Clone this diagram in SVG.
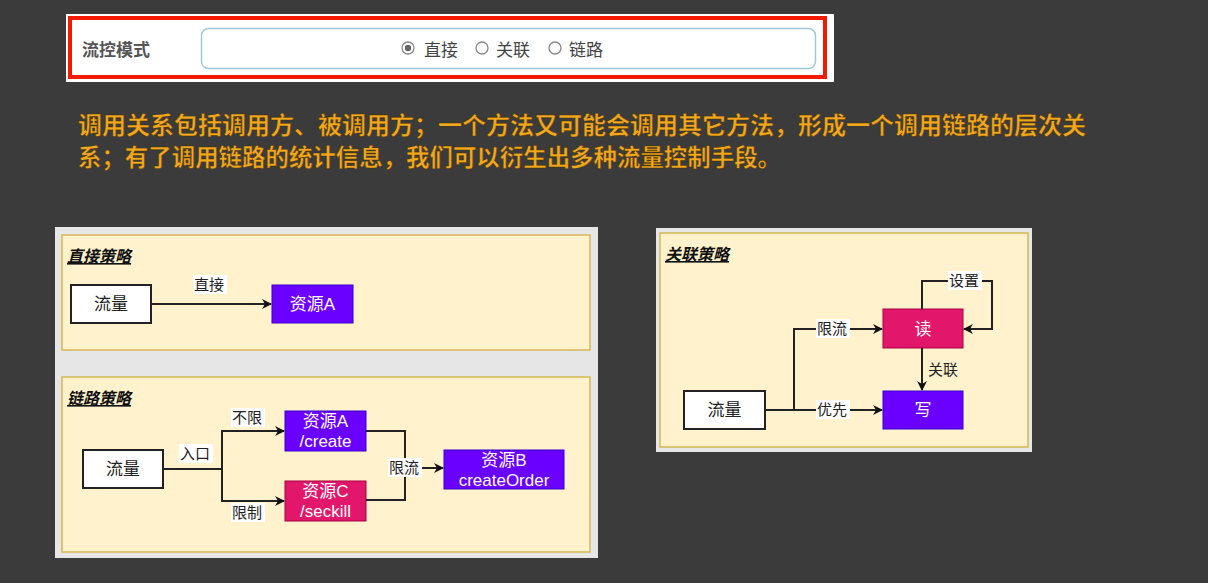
<svg xmlns="http://www.w3.org/2000/svg" width="1208" height="583" viewBox="0 0 1208 583">
<defs>
<marker id="arr" viewBox="0 0 10 10" refX="9" refY="5" markerWidth="11" markerHeight="10" orient="auto" markerUnits="userSpaceOnUse">
<path d="M0,0 L10,5 L0,10 L3,5 Z" fill="#111"/>
</marker>
<style>
text{font-family:"Liberation Sans","Noto Sans CJK SC",sans-serif}
.ttl{font-size:16px;font-weight:bold;font-style:italic;text-decoration:underline;fill:#111}
.lbl{font-size:15px;fill:#222}
.nt{font-size:17px;fill:#fff;text-anchor:middle}
.nd{font-size:17px;fill:#222;text-anchor:middle}
.lb{fill:#fff}
.edge{fill:none;stroke:#222;stroke-width:2}
.yel{fill:#fff2cc;stroke:#d6b656;stroke-width:1.5}
.pur{fill:#6a00ff;stroke:#3700cc;stroke-width:1}
.pnk{fill:#e2166b;stroke:#a50040;stroke-width:1}
.wht{fill:#fff;stroke:#222;stroke-width:2}
.or{font-size:23.5px;font-weight:bold;fill:#f2a81e}
</style>
</defs>
<rect width="1208" height="583" fill="#3b3b3b"/>
<!-- top mode selector -->
<g id="mode">
<rect x="66" y="14" width="768" height="68" fill="#fff"/>
<rect x="70" y="18" width="755" height="59" fill="none" stroke="#f21b00" stroke-width="4"/>
<text x="82" y="56" font-size="17" font-weight="bold" fill="#555">流控模式</text>
<rect x="201.5" y="28.5" width="614" height="40" rx="7" fill="#fff" stroke="#9fc8dc" stroke-width="1.5"/>
<circle cx="408" cy="48" r="6" fill="#fff" stroke="#888" stroke-width="1.3"/>
<circle cx="408" cy="48" r="3.2" fill="#666"/>
<text x="424" y="56" font-size="17" fill="#444">直接</text>
<circle cx="482" cy="48" r="6" fill="#fff" stroke="#888" stroke-width="1.3"/>
<text x="496" y="56" font-size="17" fill="#444">关联</text>
<circle cx="555" cy="48" r="6" fill="#fff" stroke="#888" stroke-width="1.3"/>
<text x="569" y="56" font-size="17" fill="#444">链路</text>
</g>
<!-- description -->
<g id="desc">
<text class="or" x="78" y="134" stroke="#4a3000" stroke-width="0.4" textLength="1008" lengthAdjust="spacingAndGlyphs">调用关系包括调用方、被调用方；一个方法又可能会调用其它方法，形成一个调用链路的层次关</text>
<text class="or" x="78" y="166" stroke="#4a3000" stroke-width="0.4" textLength="703" lengthAdjust="spacingAndGlyphs">系；有了调用链路的统计信息，我们可以衍生出多种流量控制手段。</text>
</g>
<!-- left panel -->
<rect x="55" y="227" width="543" height="331" fill="#e6e6e6"/>
<g id="direct">
<rect class="yel" x="62" y="235" width="528" height="115"/>
<text class="ttl" x="67" y="262">直接策略</text>
</g>
<g id="direct-flow">
<rect class="wht" x="71" y="285" width="80" height="38"/>
<text class="nd" x="111" y="310">流量</text>
</g>
<g id="direct-resA">
<rect class="pur" x="272" y="285" width="81" height="38"/>
<text class="nt" x="312.5" y="310">资源A</text>
</g>
<g id="chain">
<rect class="yel" x="62" y="377" width="528" height="175"/>
<text class="ttl" x="67" y="404">链路策略</text>
</g>
<g id="chain-flow">
<rect class="wht" x="83" y="450" width="80" height="38"/>
<text class="nd" x="123" y="475">流量</text>
</g>
<g id="chain-resA">
<rect class="pur" x="285" y="411" width="81" height="40"/>
<text class="nt" x="325.5" y="427">资源A</text>
<text class="nt" x="325.5" y="447">/create</text>
</g>
<g id="chain-resC">
<rect class="pnk" x="285" y="481" width="81" height="40"/>
<text class="nt" x="325.5" y="497">资源C</text>
<text class="nt" x="325.5" y="517">/seckill</text>
</g>
<g id="chain-resB">
<rect class="pur" x="444" y="450" width="120" height="39"/>
<text class="nt" x="504" y="466">资源B</text>
<text class="nt" x="504" y="486">createOrder</text>
</g>
<!-- right panel -->
<rect x="656" y="228" width="376" height="224" fill="#e6e6e6"/>
<g id="assoc">
<rect class="yel" x="660" y="233" width="368" height="214"/>
<text class="ttl" x="665" y="260">关联策略</text>
</g>
<g id="assoc-flow">
<rect class="wht" x="684" y="391" width="81" height="38"/>
<text class="nd" x="724.5" y="416">流量</text>
</g>
<g id="assoc-read">
<rect class="pnk" x="883" y="309" width="80" height="39"/>
<text class="nt" x="923" y="335">读</text>
</g>
<g id="assoc-write">
<rect class="pur" x="883" y="391" width="80" height="38"/>
<text class="nt" x="923" y="416">写</text>
</g>
<!-- connectors -->
<g id="connectors">
<path class="edge" d="M151,304 H271" marker-end="url(#arr)"/>
<rect class="lb" x="193" y="275" width="34" height="19"/>
<text class="lbl" x="194" y="290">直接</text>

<path class="edge" d="M163,469 H222 V431 H284" marker-end="url(#arr)"/>
<path class="edge" d="M222,469 V501 H284" marker-end="url(#arr)"/>
<path class="edge" d="M366,431 H405 V500 H366"/>
<path class="edge" d="M405,468 H443" marker-end="url(#arr)"/>
<rect class="lb" x="179" y="444" width="34" height="19"/>
<text class="lbl" x="180" y="459">入口</text>
<rect class="lb" x="231" y="408" width="34" height="19"/>
<text class="lbl" x="232" y="423">不限</text>
<rect class="lb" x="231" y="503" width="34" height="19"/>
<text class="lbl" x="232" y="518">限制</text>
<rect class="lb" x="388" y="458" width="34" height="19"/>
<text class="lbl" x="389" y="473">限流</text>

<path class="edge" d="M765,410 H882" marker-end="url(#arr)"/>
<path class="edge" d="M794,410 V329 H882" marker-end="url(#arr)"/>
<path class="edge" d="M922,348 V390" marker-end="url(#arr)"/>
<path class="edge" d="M922,309 V281 H992 V329 H964" marker-end="url(#arr)"/>
<rect class="lb" x="816" y="400" width="34" height="19"/>
<text class="lbl" x="817" y="415">优先</text>
<rect class="lb" x="816" y="319" width="34" height="19"/>
<text class="lbl" x="817" y="334">限流</text>
<text class="lbl" x="928" y="375">关联</text>
<rect class="lb" x="948" y="271" width="34" height="19"/>
<text class="lbl" x="949" y="286">设置</text>
</g>
</svg>
